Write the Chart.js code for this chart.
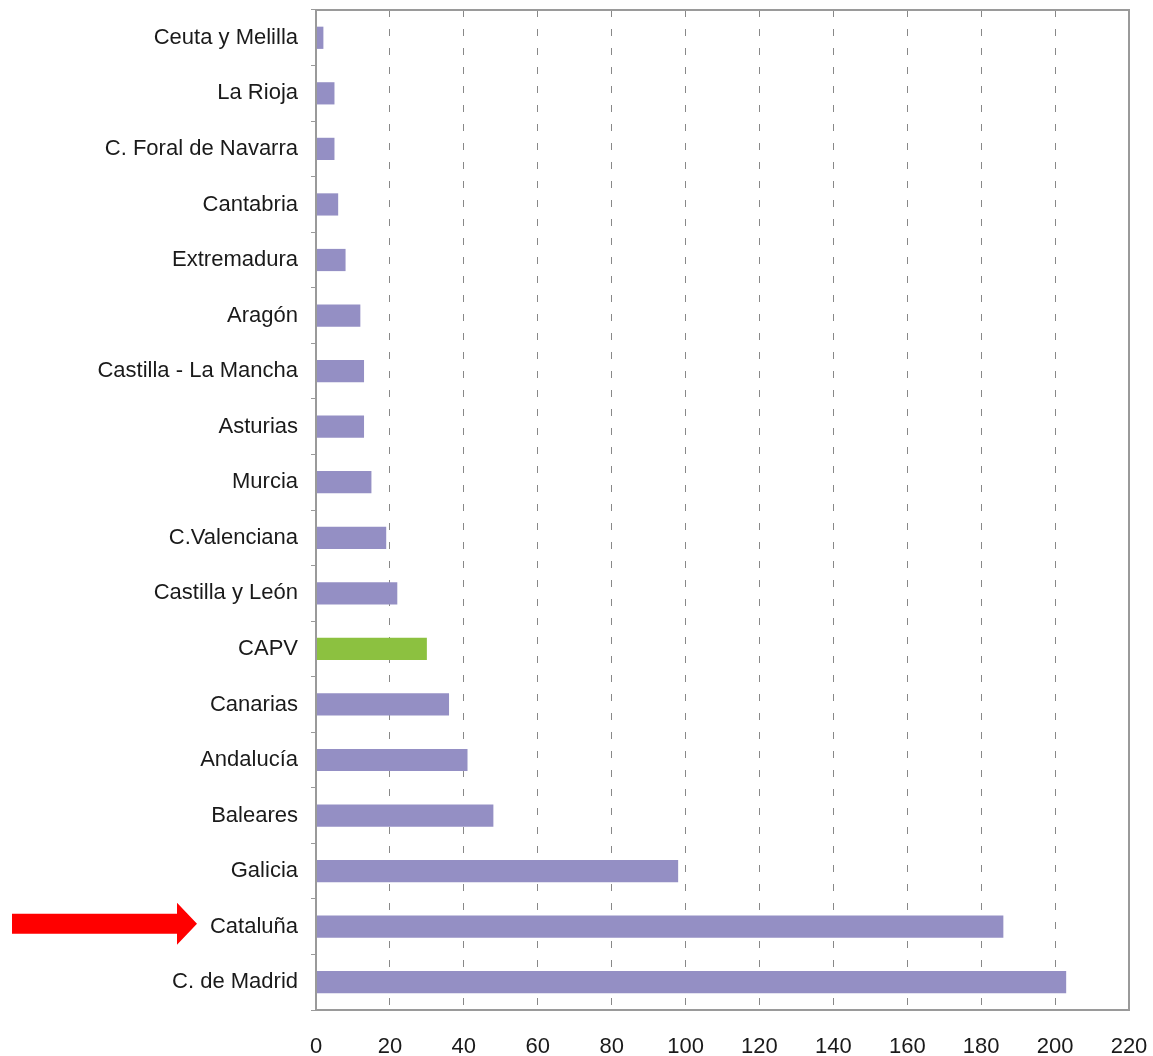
<!DOCTYPE html>
<html>
<head>
<meta charset="utf-8">
<script src="https://cdn.jsdelivr.net/npm/chart.js@4/dist/chart.umd.min.js"></script>
<style>
  html, body { margin: 0; padding: 0; background: #fff; }
  #wrap { width: 1153px; height: 1056px; position: relative; }
</style>
</head>
<body>
<div id="wrap"><canvas id="chart"></canvas></div>
<script>
const regions = ['Ceuta y Melilla', 'La Rioja', 'C. Foral de Navarra', 'Cantabria', 'Extremadura',
    'Aragón', 'Castilla - La Mancha', 'Asturias', 'Murcia', 'C.Valenciana', 'Castilla y León',
    'CAPV', 'Canarias', 'Andalucía', 'Baleares', 'Galicia', 'Cataluña', 'C. de Madrid'];
const values = [2, 5, 5, 6, 8, 12, 13, 13, 15, 19, 22, 30, 36, 41, 48, 98, 186, 203];
const highlighted = 'CAPV';
const arrowAt = 'Cataluña';
const xTicks = [0, 20, 40, 60, 80, 100, 120, 140, 160, 180, 200, 220];

const purple = '#948fc4';
const green = '#8cc140';

// frame around the plot and the red arrow next to Cataluña
const framePlugin = {
    id: 'frame',
    afterDatasetsDraw(chart) {
        const a = chart.chartArea;
        const ctx = chart.ctx;
        ctx.save();
        ctx.strokeStyle = '#9a9a9a';
        ctx.lineWidth = 2;
        ctx.strokeRect(a.left, a.top, a.right - a.left, a.bottom - a.top);
        ctx.restore();
    },
    afterDraw(chart) {
        const ctx = chart.ctx;
        const y = chart.scales.y.getPixelForValue(regions.indexOf(arrowAt)) - 3;
        ctx.save();
        ctx.fillStyle = '#ff0000';
        ctx.beginPath();
        ctx.moveTo(12, y - 10);
        ctx.lineTo(177, y - 10);
        ctx.lineTo(177, y - 21);
        ctx.lineTo(197, y);
        ctx.lineTo(177, y + 21);
        ctx.lineTo(177, y + 10);
        ctx.lineTo(12, y + 10);
        ctx.closePath();
        ctx.fill();
        ctx.restore();
    }
};

const labelFont = { family: 'Liberation Sans, Arial, sans-serif', size: 22 };

new Chart(document.getElementById('chart'), {
    type: 'bar',
    data: {
        labels: regions,
        datasets: [{
            data: values,
            backgroundColor: regions.map(r => r === highlighted ? green : purple),
            barPercentage: 0.4,
            categoryPercentage: 1.0
        }]
    },
    options: {
        indexAxis: 'y',
        responsive: true,
        maintainAspectRatio: false,
        animation: false,
        layout: { padding: { top: 10, right: 24, left: 0, bottom: 0 } },
        plugins: {
            legend: { display: false },
            tooltip: { enabled: false }
        },
        scales: {
            x: {
                type: 'linear',
                min: 0,
                max: 220,
                afterBuildTicks(scale) {
                    scale.ticks = xTicks.map(v => ({ value: v }));
                },
                afterFit(scale) {
                    scale.height = 46;
                    scale.paddingLeft = 0;
                    scale.paddingRight = 0;
                },
                grid: {
                    color: '#888',
                    lineWidth: 1,
                    drawTicks: false
                },
                border: { display: false, dash: [7, 12] },
                ticks: {
                    padding: 24,
                    color: '#1a1a1a',
                    font: labelFont
                }
            },
            y: {
                afterFit(scale) {
                    scale.width = 316;
                    scale.paddingTop = 0;
                    scale.paddingBottom = 0;
                },
                grid: {
                    drawOnChartArea: false,
                    drawTicks: true,
                    tickLength: 5,
                    color: '#9a9a9a'
                },
                border: { display: true, color: '#9a9a9a', width: 2 },
                ticks: {
                    padding: 13,
                    color: '#1a1a1a',
                    font: labelFont
                }
            }
        }
    },
    plugins: [framePlugin]
});
</script>
</body>
</html>
